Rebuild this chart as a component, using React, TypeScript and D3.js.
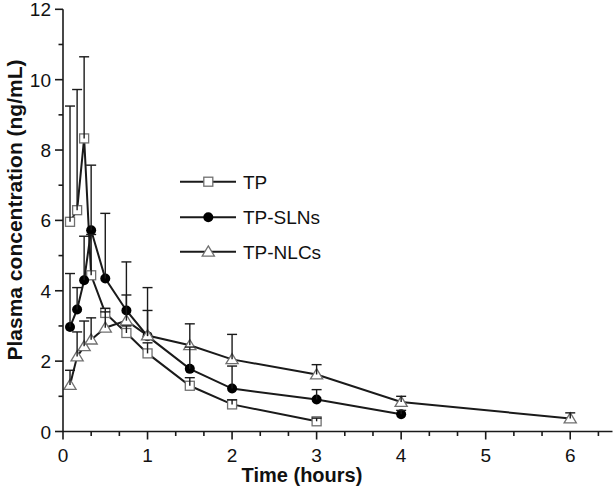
import React from "react";
import { scaleLinear, line, range } from "d3";

// sampling times (hours)
const timesTP = [0.083, 0.167, 0.25, 0.333, 0.5, 0.75, 1, 1.5, 2, 3];
const timesSLN = [0.083, 0.167, 0.25, 0.333, 0.5, 0.75, 1, 1.5, 2, 3, 4];
const timesNLC = [0.083, 0.167, 0.25, 0.333, 0.5, 0.75, 1, 1.5, 2, 3, 4, 6];

// mean plasma concentration (ng/mL)
const meanTP = [5.96, 6.29, 8.33, 4.44, 3.37, 2.8, 2.22, 1.3, 0.77, 0.29];
const meanSLN = [2.97, 3.47, 4.3, 5.72, 4.35, 3.44, 2.71, 1.78, 1.22, 0.91, 0.49];
const meanNLC = [1.32, 2.13, 2.42, 2.61, 2.95, 3.15, 2.73, 2.45, 2.05, 1.62, 0.84, 0.37];

// SD (upper error bars only)
const sdTP = [3.29, 3.43, 2.32, 1.16, 0.13, 0.2, 0.3, 0.23, 0.13, 0.09];
const sdSLN = [1.52, 0.62, 1.25, 1.85, 1.85, 1.38, 1.38, 0.62, 0.64, 0.28, 0.11];
const sdNLC = [0.42, 0.7, 0.72, 0.62, 0.45, 0.73, 0.71, 0.61, 0.71, 0.28, 0.16, 0.16];

const seriesNames = ["TP", "TP-SLNs", "TP-NLCs"];
const xTicks = [0, 1, 2, 3, 4, 5, 6];
const yTicks = [0, 2, 4, 6, 8, 10, 12];

const W = 616;
const H = 496;
const FONT = "'Liberation Sans', Arial, sans-serif";

const series = [
  { name: seriesNames[0], t: timesTP, m: meanTP, sd: sdTP, marker: "square" },
  { name: seriesNames[1], t: timesSLN, m: meanSLN, sd: sdSLN, marker: "circle" },
  { name: seriesNames[2], t: timesNLC, m: meanNLC, sd: sdNLC, marker: "triangle" },
];

function Marker({ type, cx, cy }: { type: string; cx: number; cy: number }) {
  if (type === "square")
    return (
      <rect x={cx - 4.5} y={cy - 4.5} width={9} height={9} fill="white" stroke="#707070" strokeWidth={1.3} />
    );
  if (type === "circle") return <circle cx={cx} cy={cy} r={5} fill="black" />;
  const s = 5.8;
  return (
    <path
      d={`M${cx},${cy - s} L${cx + s * 1.05},${cy + s * 0.75} L${cx - s * 1.05},${cy + s * 0.75} Z`}
      fill="white"
      stroke="#707070"
      strokeWidth={1.3}
    />
  );
}

export default function App() {
  const x = scaleLinear().domain([0, 6.5]).range([63, 612.5]);
  const y = scaleLinear().domain([0, 12]).range([431.5, 9.3]);

  const minorX = range(0, 6.5, 1 / 3).filter((v) => Math.abs(v - Math.round(v)) > 0.01);
  const minorY = range(1, 12, 2);

  const legendY = [181.7, 217.3, 251.7];

  return (
    <svg width={W} height={H} style={{ position: "absolute", left: 0, top: 0 }}>
      <rect width={W} height={H} fill="white" />
      {/* lines */}
      {series.map((s) => {
        const pts = s.t.map((t, i) => [t, s.m[i]] as [number, number]);
        const gen = line<[number, number]>()
          .x((d) => x(d[0]))
          .y((d) => y(d[1]));
        return <path key={s.name + "l"} d={gen(pts) || ""} fill="none" stroke="#1a1a1a" strokeWidth={2} />;
      })}
      {/* markers */}
      {series.map((s) =>
        s.t.map((t, i) => <Marker key={s.name + "m" + i} type={s.marker} cx={x(t)} cy={y(s.m[i])} />)
      )}
      {/* error bars */}
      {series.map((s) =>
        s.t.map((t, i) => {
          const cx = x(t);
          const top = y(s.m[i] + s.sd[i]);
          return (
            <g key={s.name + "e" + i} stroke="#1a1a1a" strokeWidth={1.4}>
              <line x1={cx} x2={cx} y1={y(s.m[i])} y2={top} />
              <line x1={cx - 5} x2={cx + 5} y1={top} y2={top} />
            </g>
          );
        })
      )}
      {/* axes */}
      <g stroke="#1a1a1a" strokeWidth={1.6}>
        <line x1={x(0)} x2={x(0)} y1={y(12)} y2={y(0)} />
        <line x1={x(0)} x2={612.5} y1={y(0)} y2={y(0)} />
        {xTicks.map((v) => (
          <line key={"xt" + v} x1={x(v)} x2={x(v)} y1={y(0)} y2={y(0) + 8} />
        ))}
        {minorX.map((v, i) => (
          <line key={"xm" + i} x1={x(v)} x2={x(v)} y1={y(0)} y2={y(0) + 4.5} />
        ))}
        {yTicks.map((v) => (
          <line key={"yt" + v} x1={x(0) - 8} x2={x(0)} y1={y(v)} y2={y(v)} />
        ))}
        {minorY.map((v) => (
          <line key={"ym" + v} x1={x(0) - 4.5} x2={x(0)} y1={y(v)} y2={y(v)} />
        ))}
      </g>
      <g fontFamily={FONT} fontSize={19} fill="#111">
        {xTicks.map((v) => (
          <text key={"xl" + v} x={x(v)} y={y(0) + 30} textAnchor="middle">
            {v}
          </text>
        ))}
        {yTicks.map((v) => (
          <text key={"yl" + v} x={x(0) - 12} y={y(v) + 7} textAnchor="end">
            {v}
          </text>
        ))}
      </g>
      <text x={302} y={482} textAnchor="middle" fontFamily={FONT} fontSize={20} fontWeight="bold" fill="#111">
        Time (hours)
      </text>
      <text
        transform={`translate(22,210) rotate(-90)`}
        textAnchor="middle"
        fontFamily={FONT}
        fontSize={21}
        fontWeight="bold"
        fill="#111"
      >
        Plasma concentration (ng/mL)
      </text>
      {/* legend */}
      {series.map((s, i) => (
        <g key={s.name + "leg"}>
          <line x1={180} x2={236} y1={legendY[i]} y2={legendY[i]} stroke="#1a1a1a" strokeWidth={2} />
          <Marker type={s.marker} cx={208.3} cy={legendY[i]} />
          <text x={243} y={legendY[i] + 7} fontFamily={FONT} fontSize={19} fill="#111">
            {s.name}
          </text>
        </g>
      ))}
    </svg>
  );
}
